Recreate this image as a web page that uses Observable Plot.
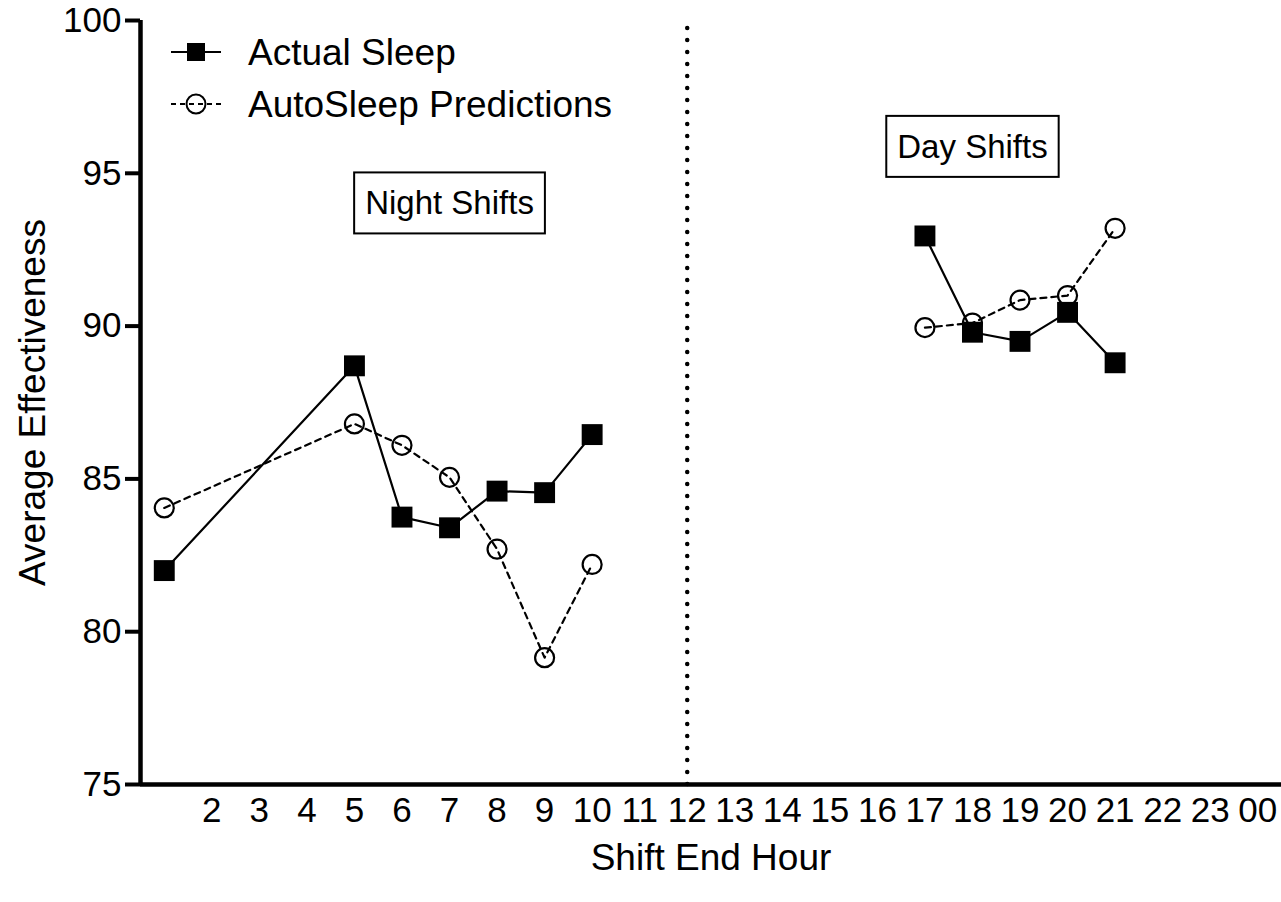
<!DOCTYPE html>
<html>
<head>
<meta charset="utf-8">
<script src="https://cdn.jsdelivr.net/npm/d3@7"></script>
<script src="https://cdn.jsdelivr.net/npm/@observablehq/plot@0.6"></script>
<style>
  html, body { margin: 0; padding: 0; background: #fff; }
  #chart { width: 1281px; height: 902px; }
</style>
</head>
<body>
<div id="chart"></div>
<script>
// Shift end hour (1–24) of each measured shift
const hours = [1, 5, 6, 7, 8, 9, 10, 17, 18, 19, 20, 21];
// Average effectiveness computed from actual sleep
const actualSleep = [82.0, 88.7, 83.75, 83.4, 84.6, 84.55, 86.45, 92.95, 89.8, 89.5, 90.45, 88.8];
// Average effectiveness computed from AutoSleep predictions
const autoSleep = [84.05, 86.8, 86.1, 85.05, 82.7, 79.15, 82.2, 89.95, 90.1, 90.85, 91.0, 93.2];
// Tick values and labels
const xTicks = [2, 3, 4, 5, 6, 7, 8, 9, 10, 11, 12, 13, 14, 15, 16, 17, 18, 19, 20, 21, 22, 23, 24];
const yTicks = [75, 80, 85, 90, 95, 100];
// Boxed annotations for the two shift groups
const boxLabels = ["Night Shifts", "Day Shifts"];
const boxHours = [7, 18];
const boxValues = [94.0, 95.85];
// Divider between night and day shifts
const dividerHour = [12];
const legendLabels = ["Actual Sleep", "AutoSleep Predictions"];
const xTitle = "Shift End Hour";
const yTitle = "Average Effectiveness";

const rows = hours.map((h, i) => ({
  hour: h,
  actual: actualSleep[i],
  auto: autoSleep[i],
  shift: h < 12 ? "Night" : "Day"
}));
const boxes = boxLabels.map((t, i) => ({text: t, hour: boxHours[i], value: boxValues[i]}));

const font = "'Liberation Sans', Arial, sans-serif";

const chart = Plot.plot({
  width: 1281,
  height: 902,
  marginLeft: 140,
  marginRight: 0,
  marginTop: 20,
  marginBottom: 118,
  style: {fontFamily: font, fontSize: "35px", background: "#fff", color: "#000"},
  x: {domain: [0.5, 24.5]},
  y: {domain: [75, 100]},
  marks: [
    Plot.axisX({ticks: xTicks, tickSize: 0, tickPadding: 13, fontSize: 35,
      tickFormat: d => d === 24 ? "00" : String(d), label: null}),
    Plot.axisY({ticks: yTicks, tickSize: 15, tickPadding: 4, strokeWidth: 4, fontSize: 35, label: null}),
    Plot.ruleX(dividerHour, {y1: 75, y2: 100, strokeWidth: 4.5, strokeDasharray: "0,12", strokeLinecap: "round"}),
    Plot.line(rows, {x: "hour", y: "auto", z: "shift", stroke: "#000", strokeWidth: 2.2, strokeDasharray: "6,5"}),
    Plot.dot(rows, {x: "hour", y: "auto", r: 9.5, stroke: "#000", strokeWidth: 2.2, fill: "none"}),
    Plot.line(rows, {x: "hour", y: "actual", z: "shift", stroke: "#000", strokeWidth: 2.2}),
    Plot.dot(rows, {x: "hour", y: "actual", symbol: "square", r: 11.8, fill: "#000", stroke: "none"}),
    Plot.ruleX([0.5], {y1: 75, y2: 100, strokeWidth: 4.5}),
    Plot.ruleY([75], {strokeWidth: 4.5}),
    Plot.text(boxes, {x: "hour", y: "value", text: "text", fontSize: 33, lineAnchor: "middle", textAnchor: "middle", fill: "#000"}),
    Plot.text([xTitle], {frameAnchor: "bottom", textAnchor: "middle", lineAnchor: "middle", dy: 74, fontSize: 37, fill: "#000"}),
    Plot.text([yTitle], {frameAnchor: "left", textAnchor: "middle", lineAnchor: "middle", rotate: -90, dx: -107, fontSize: 37, fill: "#000"})
  ]
});

document.getElementById("chart").appendChild(chart);

const svg = d3.select(chart);

// Frame each shift-group label with a rectangle (in the label's own coordinates)
svg.selectAll("text")
  .filter(function () { return boxLabels.includes(this.textContent); })
  .each(function () {
    const bb = this.getBBox();
    d3.select(this.parentNode).insert("rect", () => this)
      .attr("transform", this.getAttribute("transform"))
      .attr("x", bb.x - 11)
      .attr("y", bb.y - 12)
      .attr("width", bb.width + 22)
      .attr("height", bb.height + 24)
      .attr("fill", "#fff")
      .attr("stroke", "#000")
      .attr("stroke-width", 2);
  });

// Legend in the upper-left corner of the plot
const legend = svg.append("g")
  .attr("font-family", font)
  .attr("font-size", 37)
  .attr("text-anchor", "start");
const rowsY = [52, 104];
legendLabels.forEach((label, i) => {
  const y = rowsY[i];
  const row = legend.append("g");
  row.append("line")
    .attr("x1", 171).attr("x2", 221).attr("y1", y).attr("y2", y)
    .attr("stroke", "#000").attr("stroke-width", 2)
    .attr("stroke-dasharray", i === 0 ? null : "5,4");
  if (i === 0) {
    row.append("rect").attr("x", 187).attr("y", y - 9).attr("width", 18).attr("height", 18).attr("fill", "#000");
  } else {
    row.append("circle").attr("cx", 196).attr("cy", y).attr("r", 9.5)
      .attr("fill", "none").attr("stroke", "#000").attr("stroke-width", 2);
  }
  row.append("text").attr("x", 248).attr("y", y).attr("dy", "0.35em")
    .attr("text-anchor", "start").attr("fill", "#000").text(label);
});
</script>
</body>
</html>
